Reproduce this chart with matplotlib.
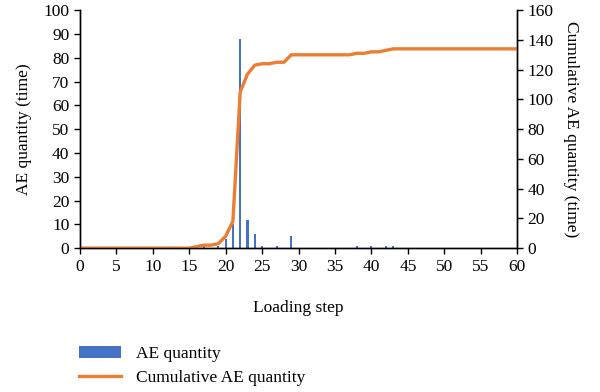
"""
AE quantity per loading step with cumulative AE count on a twin axis
"""

import numpy as np
import matplotlib
matplotlib.use('Agg')
import matplotlib.pyplot as plt

plt.rcParams['font.family'] = ['Liberation Serif', 'DejaVu Serif']
plt.rcParams['font.size'] = 12.5

# loading steps 0..60
steps = list(range(0, 61))

# AE quantity (time) per step
ae_steps = [16, 17, 19, 20, 21, 22, 23, 24, 25, 27, 29, 38, 40, 42, 43]
ae_counts = [1, 1, 1, 4, 10, 88, 12, 6, 1, 1, 5, 1, 1, 1, 1]

# cumulative AE quantity (time)
cum_ae = [0, 0, 0, 0, 0, 0, 0, 0, 0, 0,
          0, 0, 0, 0, 0, 0, 1, 2, 2, 3,
          8, 18, 105, 117, 123, 124, 124, 125, 125, 130,
          130, 130, 130, 130, 130, 130, 130, 130, 131, 131,
          132, 132, 133, 134, 134, 134, 134, 134, 134, 134,
          134, 134, 134, 134, 134, 134, 134, 134, 134, 134,
          134]

blue = '#4472C4'
orange = '#ED7D31'
fs = 12.5

fig = plt.figure(figsize=(6.0, 3.92), dpi=100)
ax = fig.add_axes([0.133, 0.367, 0.729, 0.607])
ax2 = ax.twinx()

bars = ax.bar(ae_steps, ae_counts, width=0.3, color=blue, zorder=2, label='AE quantity')
# line drawn on the primary axis (scaled) so it sits over the bars
line, = ax.plot(steps, np.array(cum_ae) * 100.0 / 160.0, color=orange, lw=2.4, zorder=3,
                label='Cumulative AE quantity')

ax.set_xlim(0, 60)
ax.set_ylim(0, 100)
ax2.set_ylim(0, 160)
ax.set_xticks(np.arange(0, 61, 5))
ax.set_yticks(np.arange(0, 101, 10))
ax2.set_yticks(np.arange(0, 161, 20))

for a in (ax, ax2):
    a.spines['top'].set_visible(False)
    for s in a.spines.values():
        s.set_linewidth(1.0)
        s.set_color('black')
    a.tick_params(direction='out', length=4, width=1, labelsize=fs)

ax.set_xlabel('Loading step', fontsize=fs, labelpad=18)
ax.set_ylabel('AE quantity (time)', fontsize=fs, labelpad=8)
ax2.set_ylabel('Cumulative AE quantity (time)', fontsize=fs, rotation=270, labelpad=18)

fig.legend(handles=[bars, line], loc='upper left', bbox_to_anchor=(0.12, 0.135),
           frameon=False, fontsize=fs, handlelength=2.4, handletextpad=0.9,
           labelspacing=0.45, borderaxespad=0)

plt.savefig('out.png', dpi=100)
